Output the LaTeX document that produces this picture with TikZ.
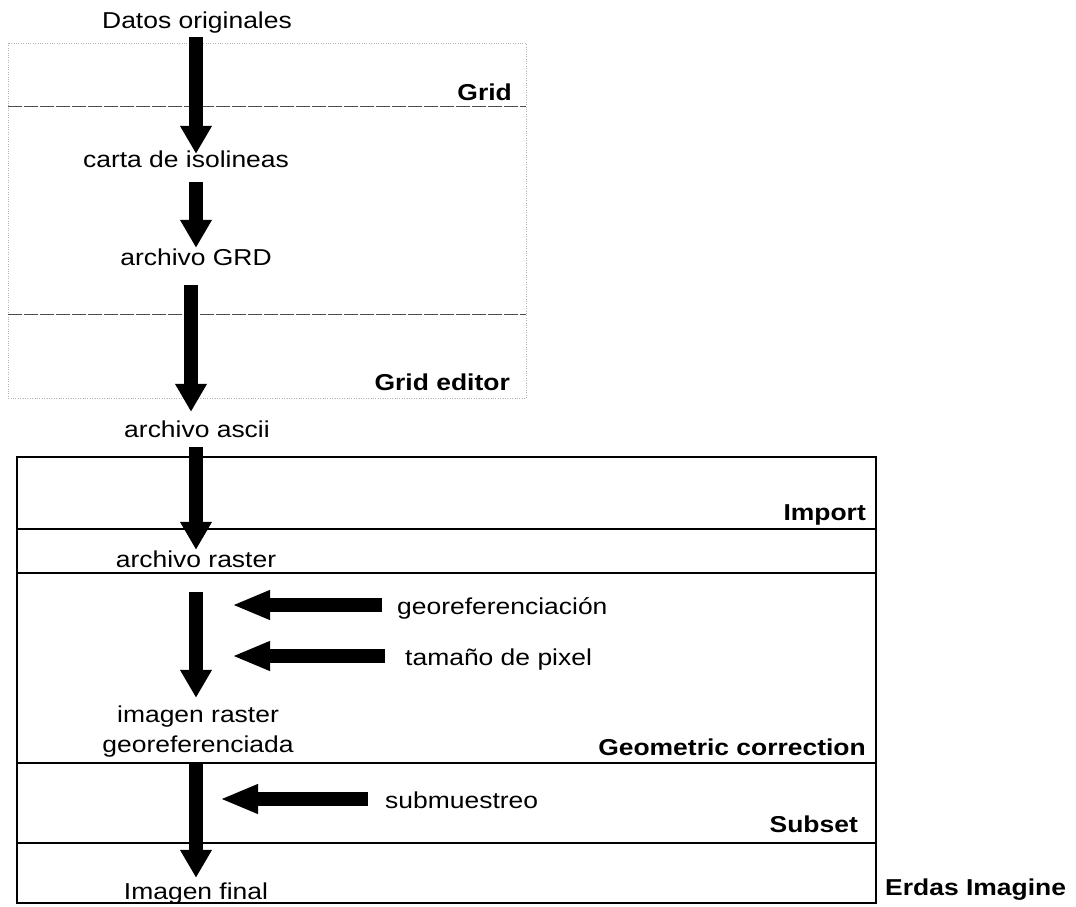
\documentclass[tikz,border=0pt]{standalone}
\usepackage{fontspec}
\setmainfont{Liberation Sans}[FakeStretch=1.15]
\usetikzlibrary{arrows.meta, positioning}

\begin{document}
\begin{tikzpicture}[x=1pt, y=-1pt,
    txt/.style={font=\fontsize{23}{27}\selectfont, inner sep=0pt, text height=17pt, text depth=5pt, anchor=base},
    lbl/.style={font=\fontsize{23}{27}\selectfont\bfseries, inner sep=0pt, anchor=base east},
    flow/.style={line width=14pt, -{Triangle[width=30pt, length=28pt]}},
    feed/.style={line width=14pt, -{Triangle[width=27pt, length=38pt]}}]
    \useasboundingbox (0,0) rectangle (1076,907);

    % Grid / Grid editor frame
    \draw[gray!60, dotted, thin] (8,43) rectangle (526,398);
    \foreach \y in {106, 314}
    \draw[black!70, dash pattern=on 14pt off 2pt, line width=0.8pt] (8,\y) -- (526,\y);

    % Erdas Imagine frame
    \draw[line width=2.5pt] (17,457) rectangle (876,903);
    \foreach \y in {529, 573, 763, 843}
    \draw[line width=1.2pt] (17,\y) -- (876,\y);

    % Stage labels
    \node[lbl] (grid) at (512,100) {Grid};
    \node[lbl] (grideditor) at (510,390) {Grid editor};
    \node[lbl] (import) at (866,520) {Import};
    \node[lbl] (geocorr) at (866,755) {Geometric correction};
    \node[lbl] (subset) at (858,832) {Subset};
    \node[lbl, anchor=base west] (erdas) at (885,895) {Erdas Imagine};

    % Data along the chain
    \node[txt] (datos) at (197,28.5) {Datos originales};
    \node[txt] (carta) at (186,167) {carta de isolineas};
    \node[txt] (grd) at (196,265) {archivo GRD};
    \node[txt] (ascii) at (197,437) {archivo ascii};
    \node[txt] (raster) at (196,567) {archivo raster};
    \node[txt] (imgr) at (198,722) {imagen raster};
    \node[txt] (imgg) at (198,752) {georeferenciada};
    \node[txt] (final) at (196,899) {Imagen final};

    % Inputs from the right
    \node[txt, anchor=base west] (georef) at (397,614) {georeferenciación};
    \node[txt, anchor=base west] (tamano) at (405,665) {tamaño de pixel};
    \node[txt, anchor=base west] (subm) at (385,808) {submuestreo};

    % Flow arrows
    \coordinate (axis) at (196,0);
    \coordinate (axisb) at (191,0);
    \draw[flow, shorten <=3.5pt, shorten >=-4pt] (datos.south -| axis) -- (carta.north -| axis);
    \draw[flow, shorten <=10pt] (carta.south -| axis) -- (grd.north -| axis);
    \draw[flow, shorten <=15pt, shorten >=8pt] (grd.south -| axisb) -- (ascii.north -| axisb);
    \draw[flow, shorten <=5pt] (ascii.south -| axis) -- (raster.north -| axis);
    \draw[flow, shorten <=20pt, shorten >=7pt] (raster.south -| axis) -- (imgr.north -| axis);
    \draw[flow, shorten <=6pt, shorten >=4pt] (imgg.south -| axis) -- (final.north -| axis);

    % Side arrows
    \coordinate (tipa) at (232,0);
    \coordinate (tipb) at (220,0);
    \draw[feed, shorten <=15pt] ([yshift=3pt]georef.west) -- ([yshift=3pt]georef.west -| tipa);
    \draw[feed, shorten <=20pt] ([yshift=3pt]tamano.west) -- ([yshift=3pt]tamano.west -| tipa);
    \draw[feed, shorten <=17pt] ([yshift=3pt]subm.west) -- ([yshift=3pt]subm.west -| tipb);
\end{tikzpicture}
\end{document}
